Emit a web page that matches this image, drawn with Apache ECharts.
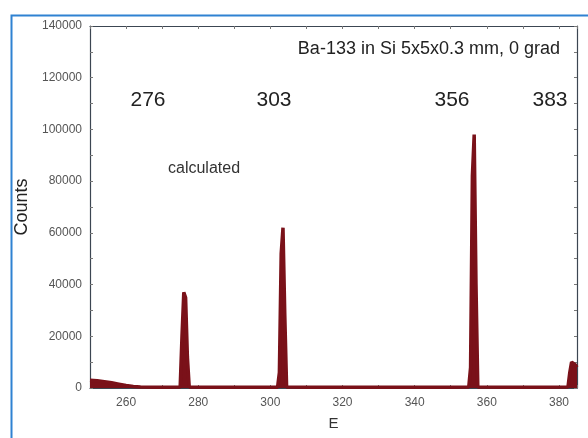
<!DOCTYPE html>
<html>
<head>
    <meta charset="utf-8">
    <title>Ba-133 spectrum</title>
    <style>
        *{ margin:0; padding:0; box-sizing:border-box; }
        html, body, #chart{ width:588px; height:438px; overflow:hidden; background:#fff; }
    </style>
</head>
<body>
    <div id="chart"></div>
    <script src="https://cdn.jsdelivr.net/npm/echarts@6/dist/echarts.min.js"></script>
    <script>
        // energy (keV) and counts
        var energy = [250, 252, 254, 256, 258, 260, 262, 264, 268, 272, 275,
            275.5, 276, 276.5, 277, 277.5, 282, 290, 298, 302,
            302.5, 303, 303.5, 304, 304.5, 310, 320, 330, 340, 350, 355,
            355.5, 356, 356.5, 357, 357.5, 365, 375, 382.5,
            383, 383.5, 384, 384.5, 385];
        var counts = [3000, 2800, 2400, 2000, 1500, 1000, 600, 400, 300, 300, 400,
            20000, 37000, 35000, 12000, 400, 300, 300, 300, 300,
            6000, 52000, 62000, 28000, 400, 300, 300, 300, 300, 300, 400,
            8000, 82000, 98000, 40000, 400, 300, 300, 400,
            6000, 10000, 10000, 9000, 8000];
        var xTicks = [260, 280, 300, 320, 340, 360, 380];
        var peakLabels = [['276', 148], ['303', 274], ['356', 452], ['383', 550]];

        var chart = echarts.init(document.getElementById('chart'));
        var data = energy.map(function (e, i) { return [e, counts[i]]; });
        var axisColor = '#3c4652';
        var font = 'Liberation Sans, Arial';
        var labelStyle = { color: '#555', fontSize: 12, fontFamily: font };

        function xAx(pos, show) {
            return {
                type: 'value', position: pos, min: 250, max: 385, interval: 10,
                axisLine: { show: true, onZero: false, lineStyle: { color: axisColor, width: 1.2 } },
                axisTick: { show: true, inside: true, length: 3, lineStyle: { color: '#777' } },
                minorTick: { show: false },
                splitLine: { show: false },
                axisLabel: show ? Object.assign({
                    margin: 9,
                    formatter: function (v) { return xTicks.indexOf(v) >= 0 ? String(v) : ''; }
                }, labelStyle) : { show: false },
                name: show ? 'E' : '', nameLocation: 'middle', nameGap: 28,
                nameTextStyle: { color: '#333', fontSize: 15, fontFamily: font }
            };
        }
        function yAx(pos, show) {
            return {
                type: 'value', position: pos, min: 0, max: 140000, interval: 10000,
                axisLine: { show: true, onZero: false, lineStyle: { color: axisColor, width: 1.2 } },
                axisTick: { show: true, inside: true, length: 3, lineStyle: { color: '#777' } },
                minorTick: { show: false },
                splitLine: { show: false },
                axisLabel: show ? Object.assign({
                    margin: 8,
                    formatter: function (v) { return v % 20000 === 0 ? String(v) : ''; }
                }, labelStyle) : { show: false },
                name: show ? 'Counts' : '', nameLocation: 'middle', nameGap: 58,
                nameTextStyle: { color: '#222', fontSize: 18, fontFamily: font }
            };
        }

        var graphics = [{
            type: 'rect', left: 9, top: 13, silent: true,
            shape: { width: 620, height: 460 },
            style: { fill: 'none', stroke: '#2f82d2', lineWidth: 2 }
        }, {
            type: 'text', right: 28, top: 40,
            style: { text: 'Ba-133 in Si 5x5x0.3 mm, 0 grad', fill: '#222', fontSize: 18, fontFamily: font }
        }, {
            type: 'text', left: 168, top: 161,
            style: { text: 'calculated', fill: '#333', fontSize: 16, fontFamily: font }
        }];
        peakLabels.forEach(function (p) {
            graphics.push({
                type: 'text', x: p[1], y: 100,
                style: { text: p[0], fill: '#222', fontSize: 21, fontFamily: font, align: 'center', verticalAlign: 'middle' }
            });
        });

        chart.setOption({
            animation: false,
            backgroundColor: '#fff',
            grid: { left: 90, top: 26, width: 487, height: 362 },
            xAxis: [xAx('bottom', true), xAx('top', false)],
            yAxis: [yAx('left', true), yAx('right', false)],
            graphic: graphics,
            series: [{
                type: 'line', data: data, symbol: 'none',
                lineStyle: { color: '#7a1119', width: 3.5 },
                areaStyle: { color: '#7a1119', opacity: 1 },
                z: 1
            }]
        });
    </script>
</body>
</html>
